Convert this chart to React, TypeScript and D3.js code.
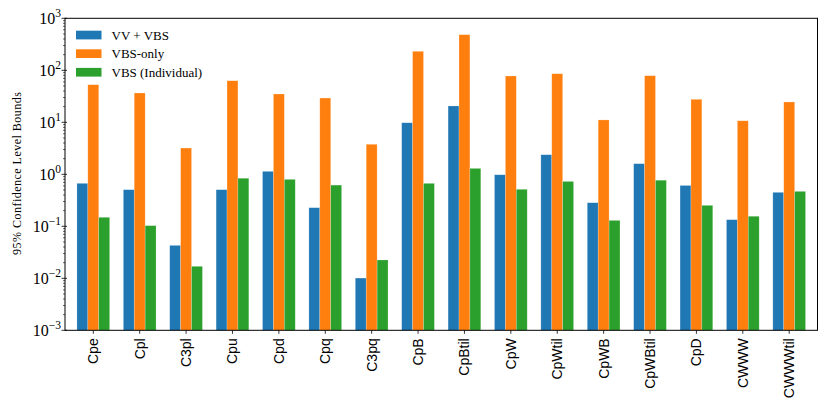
import React from "react";
import * as d3 from "d3";

const categories = ["Cpe", "Cpl", "C3pl", "Cpu", "Cpd", "Cpq", "C3pq", "CpB", "CpBtil", "CpW", "CpWtil", "CpWB", "CpWBtil", "CpD", "CWWW", "CWWWtil"];
const vvVbs = [0.67, 0.506, 0.043, 0.506, 1.14, 0.228, 0.0101, 9.8, 20.6, 0.98, 2.38, 0.284, 1.6, 0.61, 0.134, 0.45];
const vbsOnly = [52.8, 36.6, 3.2, 63, 35, 29.3, 3.78, 232, 484, 77.7, 86, 11.1, 78.7, 27.7, 10.7, 24.6];
const vbsIndividual = [0.149, 0.103, 0.017, 0.84, 0.8, 0.62, 0.0225, 0.67, 1.3, 0.515, 0.73, 0.13, 0.77, 0.253, 0.156, 0.47];
const seriesNames = ["VV + VBS", "VBS-only", "VBS (Individual)"];
const seriesColors = ["#1f77b4", "#ff7f0e", "#2ca02c"];
const yTickExponents = [-3, -2, -1, 0, 1, 2, 3];
const yLabel = "95% Confidence Level Bounds";

const W = 830, H = 415;
const left = 65, right = 817.5, top = 18.3, bottom = 330.3;

export default function App() {
  const series = [vvVbs, vbsOnly, vbsIndividual];
  const x = d3.scaleLinear().domain([-0.61, categories.length - 1 + 0.61]).range([left, right]);
  const y = d3.scaleLog().domain([1e-3, 1e3]).range([bottom, top]);
  const bw = 0.235;
  const unit = x(1) - x(0);
  const minor: number[] = [];
  for (let e = -3; e < 3; e++) for (let m = 2; m <= 9; m++) minor.push(m * Math.pow(10, e));
  const serif = "'Liberation Serif', 'DejaVu Serif', serif";
  const sans = "'Liberation Sans', Arial, sans-serif";
  return (
    <svg width={W} height={H} style={{ position: "absolute", left: 0, top: 0, background: "#fff" }}>
      {series.map((vals, si) =>
        vals.map((v, i) => {
          const cx = x(i) + (si - 1) * bw * unit;
          const w = bw * unit;
          return (
            <rect key={`${si}-${i}`} x={cx - w / 2} y={y(v)} width={w} height={bottom - y(v)}
              fill={seriesColors[si]} stroke="#ffffff" strokeOpacity={0.35} strokeWidth={0.6} />
          );
        })
      )}
      {/* frame */}
      <rect x={left} y={top} width={right - left} height={bottom - top} fill="none" stroke="#000" strokeWidth={1} />
      {/* y minor ticks */}
      {minor.map((m, i) => (
        <line key={`mn${i}`} x1={left - 2} x2={left} y1={y(m)} y2={y(m)} stroke="#000" strokeWidth={0.6} />
      ))}
      {yTickExponents.map((e) => (
        <g key={`yt${e}`}>
          <line x1={left - 3.5} x2={left + 2} y1={y(Math.pow(10, e))} y2={y(Math.pow(10, e))} stroke="#000" strokeWidth={0.8} />
          <text x={left - 4} y={y(Math.pow(10, e)) + 6} textAnchor="end" fontFamily={serif} fontSize={16} fill="#000">
            10<tspan dy={-7} fontSize={11.5}>{e < 0 ? "\u2212" + Math.abs(e) : String(e)}</tspan>
          </text>
        </g>
      ))}
      {/* x ticks */}
      {categories.map((c, i) => (
        <g key={`xt${i}`}>
          <line x1={x(i)} x2={x(i)} y1={bottom} y2={bottom + 3.5} stroke="#000" strokeWidth={0.8} />
          <text transform={`translate(${x(i) + 5},${bottom + 8}) rotate(-90)`} textAnchor="end" fontFamily={sans} fontSize={14} fill="#000">{c}</text>
        </g>
      ))}
      <text transform={`translate(${21},${173.5}) rotate(-90)`} textAnchor="middle" fontFamily={serif} fontSize={12} textLength={163} lengthAdjust="spacing" fill="#000">{yLabel}</text>
      {/* legend */}
      {seriesNames.map((n, i) => (
        <g key={`lg${i}`}>
          <rect x={76} y={30.7 + i * 18.6} width={25.5} height={8.7} fill={seriesColors[i]} />
          <text x={111.5} y={39.5 + i * 18.6} fontFamily={serif} fontSize={13} fill="#000">{n}</text>
        </g>
      ))}
    </svg>
  );
}
